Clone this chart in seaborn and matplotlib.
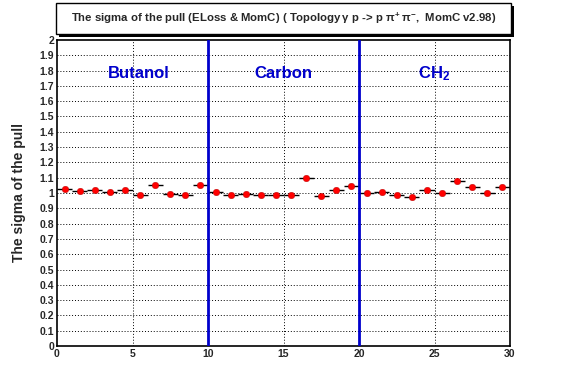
import numpy as np
import pandas as pd
import matplotlib
matplotlib.use("Agg")
import matplotlib.pyplot as plt
import seaborn as sns
from matplotlib.ticker import MultipleLocator, FuncFormatter
from matplotlib.patches import Rectangle

# ---- data ----
bins = [i + 0.5 for i in range(30)]
sigma = [1.024, 1.013, 1.020, 1.007, 1.022, 0.989, 1.052, 0.995, 0.989, 1.052,
         1.007, 0.987, 0.995, 0.989, 0.987, 0.989, 1.096, 0.983, 1.018, 1.048,
         0.998, 1.009, 0.987, 0.974, 1.020, 1.000, 1.076, 1.041, 0.998, 1.037]
bin_half_width = 0.5
separators = [10, 20]
region_labels = ["Butanol", "Carbon", "CH$_2$"]
region_label_x = [5.4, 15.0, 25.0]
region_label_y = 1.78
title = "The sigma of the pull (ELoss & MomC) ( Topology$\\,\\gamma$ p -> p $\\pi^{+}\\,\\pi^{-}$,  MomC v2.98)"
ylabel = "The sigma of the pull"

df = pd.DataFrame({"bin": bins, "sigma": sigma})

sns.set_style("white")
plt.rcParams['font.family'] = ['Liberation Sans', 'DejaVu Sans']
plt.rcParams['mathtext.fontset'] = 'custom'
plt.rcParams['mathtext.rm'] = 'Liberation Sans:bold'
plt.rcParams['mathtext.it'] = 'Liberation Sans:bold'

W, H = 567, 384
fig = plt.figure(figsize=(W / 100, H / 100), dpi=100)
ax = fig.add_axes([57 / W, 38 / H, (510 - 57) / W, (346 - 40) / H])

# grid
for yv in np.arange(0.1, 2.0, 0.1):
    ax.axhline(yv, color="black", lw=0.7, ls=(0, (1, 2)), zorder=0)
for xv in [5, 15, 25]:
    ax.axvline(xv, color="black", lw=0.7, ls=(0, (1, 2)), zorder=0)

# x error bars
ax.hlines(df["sigma"], df["bin"] - bin_half_width, df["bin"] + bin_half_width,
          color="black", lw=1.0, zorder=2)
sns.scatterplot(data=df, x="bin", y="sigma", ax=ax, color="red", s=22,
                edgecolor="#b00000", linewidth=0.3, zorder=3, legend=False)

for sx in separators:
    ax.axvline(sx, color="#0000cc", lw=2.0, zorder=4)

for lab, lx in zip(region_labels, region_label_x):
    ax.text(lx, region_label_y, lab, color="#0000cc", fontsize=12, fontweight="bold",
            ha="center", va="center")

ax.set_xlim(0, 30)
ax.set_ylim(0, 2)
ax.xaxis.set_major_locator(MultipleLocator(5))
ax.xaxis.set_minor_locator(MultipleLocator(1))
ax.yaxis.set_major_locator(MultipleLocator(0.1))
ax.yaxis.set_minor_locator(MultipleLocator(0.01))
ax.yaxis.set_major_formatter(FuncFormatter(lambda v, p: f"{round(v, 1):g}"))
ax.tick_params(axis="both", which="major", direction="in", width=1,
               labelsize=7.5, pad=2)
ax.tick_params(axis="x", which="major", length=10)
ax.tick_params(axis="y", which="major", length=8)
ax.tick_params(axis="x", which="minor", direction="in", length=5, width=0.8)
ax.tick_params(axis="y", which="minor", direction="in", length=4, width=0.5)
for lbl in ax.get_xticklabels() + ax.get_yticklabels():
    lbl.set_fontweight("bold")
for sp in ax.spines.values():
    sp.set_linewidth(1.2)
    sp.set_color("black")

ax.set_xlabel("")
ax.set_ylabel(ylabel, fontsize=10, fontweight="bold", labelpad=10)

# title box with shadow
bx0, bx1, by0, by1 = 56, 511, 3, 34
fig.add_artist(Rectangle(((bx0 + 3) / W, 1 - (by1 + 3) / H), (bx1 - bx0) / W, (by1 - by0) / H,
                         transform=fig.transFigure, facecolor="black", edgecolor="none", zorder=5))
fig.add_artist(Rectangle((bx0 / W, 1 - by1 / H), (bx1 - bx0) / W, (by1 - by0) / H,
                         transform=fig.transFigure, facecolor="white", edgecolor="black",
                         lw=1.0, zorder=6))
fig.text((bx0 + bx1) / 2 / W, 1 - (by0 + by1) / 2 / H, title, ha="center", va="center",
         fontsize=8.2, fontweight="bold", zorder=7)

fig.savefig("out.png", dpi=100)
